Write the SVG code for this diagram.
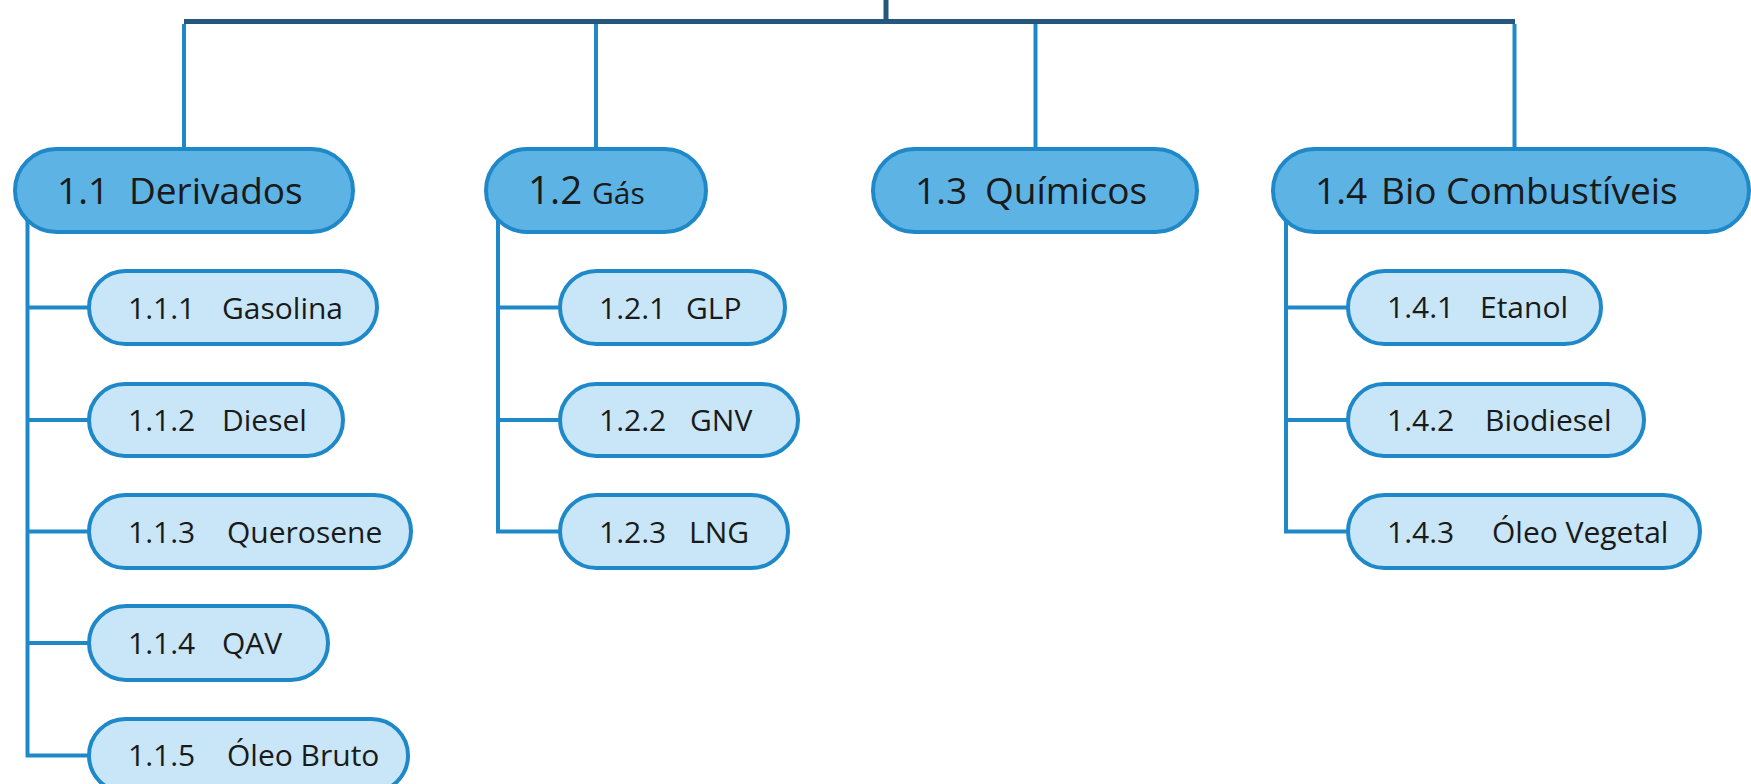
<svg xmlns="http://www.w3.org/2000/svg" width="1751" height="784" viewBox="0 0 1751 784">
<style>
.l1{fill:#5db3e3;stroke:#1e88c8;stroke-width:4}
.l2{fill:#c8e6f7;stroke:#1e88c8;stroke-width:4}
.t{font-family:"Open Sans","Noto Sans",sans-serif;fill:#1a1a1a}
.t1{font-size:37px}
.t2{font-size:30px}
.c{stroke:#1e88c8;stroke-width:4;fill:none}
.top{stroke:#25577e;stroke-width:5;fill:none}
</style>
<rect width="1751" height="784" fill="#ffffff"/>
<g id="connectors">
<path class="top" d="M886 0V22M184 21.5H1515"/>
<path class="c" d="M184 24V149M596 24V149M1035.5 24V149M1514.5 24V149"/>
<path class="c" d="M27.5 220V755.5H89M27.5 307.5H89M27.5 420H89M27.5 531.5H89M27.5 643H89"/>
<path class="c" d="M498 220V531.5H560M498 307.5H560M498 420H560"/>
<path class="c" d="M1286 220V531.5H1348M1286 307.5H1348M1286 420H1348"/>
</g>
<g id="n1_1"><rect class="l1" x="15" y="149" width="338" height="83" rx="41.5"/><text class="t t1" y="204"><tspan x="57">1.1</tspan><tspan x="129">Derivados</tspan></text></g>
<g id="n1_2"><rect class="l1" x="486" y="149" width="220" height="83" rx="41.5"/><text class="t" y="204"><tspan x="528" font-size="38.5px">1.2</tspan><tspan x="592" font-size="30px">Gás</tspan></text></g>
<g id="n1_3"><rect class="l1" x="873" y="149" width="324" height="83" rx="41.5"/><text class="t t1" y="204"><tspan x="915">1.3</tspan><tspan x="985">Químicos</tspan></text></g>
<g id="n1_4"><rect class="l1" x="1273" y="149" width="476" height="83" rx="41.5"/><text class="t t1" y="204"><tspan x="1315">1.4</tspan><tspan x="1381">Bio Combustíveis</tspan></text></g>
<g id="n1_1_1"><rect class="l2" x="89" y="271" width="288" height="73" rx="36.5"/><text class="t t2" y="319"><tspan x="128">1.1.1</tspan><tspan x="222">Gasolina</tspan></text></g>
<g id="n1_1_2"><rect class="l2" x="89" y="384" width="254" height="72" rx="36"/><text class="t t2" y="431"><tspan x="128">1.1.2</tspan><tspan x="222">Diesel</tspan></text></g>
<g id="n1_1_3"><rect class="l2" x="89" y="495" width="322" height="73" rx="36.5"/><text class="t t2" y="543"><tspan x="128">1.1.3</tspan><tspan x="227">Querosene</tspan></text></g>
<g id="n1_1_4"><rect class="l2" x="89" y="606" width="239" height="74" rx="37"/><text class="t t2" y="654"><tspan x="128">1.1.4</tspan><tspan x="222">QAV</tspan></text></g>
<g id="n1_1_5"><rect class="l2" x="89" y="719" width="319" height="73" rx="36.5"/><text class="t t2" y="766"><tspan x="128">1.1.5</tspan><tspan x="227">Óleo Bruto</tspan></text></g>
<g id="n1_2_1"><rect class="l2" x="560" y="271" width="225" height="73" rx="36.5"/><text class="t t2" y="319"><tspan x="599">1.2.1</tspan><tspan x="686">GLP</tspan></text></g>
<g id="n1_2_2"><rect class="l2" x="560" y="384" width="238" height="72" rx="36"/><text class="t t2" y="431"><tspan x="599">1.2.2</tspan><tspan x="690">GNV</tspan></text></g>
<g id="n1_2_3"><rect class="l2" x="560" y="495" width="228" height="73" rx="36.5"/><text class="t t2" y="543"><tspan x="599">1.2.3</tspan><tspan x="689">LNG</tspan></text></g>
<g id="n1_4_1"><rect class="l2" x="1348" y="271" width="253" height="73" rx="36.5"/><text class="t t2" y="318"><tspan x="1387">1.4.1</tspan><tspan x="1480">Etanol</tspan></text></g>
<g id="n1_4_2"><rect class="l2" x="1348" y="384" width="296" height="72" rx="36"/><text class="t t2" y="431"><tspan x="1387">1.4.2</tspan><tspan x="1485">Biodiesel</tspan></text></g>
<g id="n1_4_3"><rect class="l2" x="1348" y="495" width="352" height="73" rx="36.5"/><text class="t t2" y="543"><tspan x="1387">1.4.3</tspan><tspan x="1492">Óleo Vegetal</tspan></text></g>
</svg>
